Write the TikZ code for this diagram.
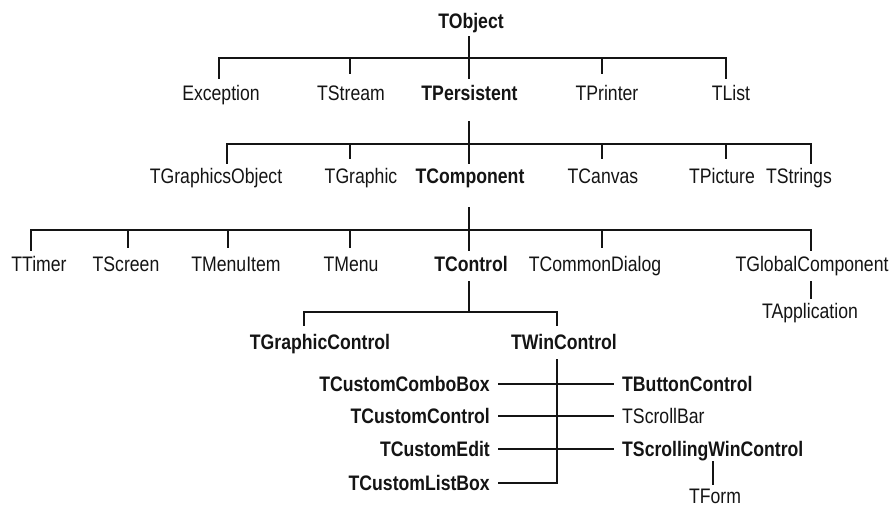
\documentclass[tikz,border=0pt]{standalone}
\usepackage{fontspec}
\setmainfont{Liberation Sans}[FakeStretch=0.84]
\definecolor{ink}{HTML}{141414}
\begin{document}
\begin{tikzpicture}[x=1pt,y=-1pt,
  lbl/.style={anchor=base,inner sep=0pt,text=ink,font=\fontsize{21}{24}\selectfont},
  blbl/.style={lbl,font=\fontsize{21}{24}\selectfont\bfseries},
  conn/.style={line width=1.4pt,draw=ink,line cap=rect}]
\useasboundingbox (0,0) rectangle (891,507);

% ---- labels ----
\node[blbl] (tobject) at (471,28) {TObject};
\node[lbl]  (exc)     at (221,100) {Exception};
\node[lbl]  (tstream) at (351,100) {TStream};
\node[blbl] (tpers)   at (469.5,100) {TPersistent};
\node[lbl]  (tprinter) at (607,100) {TPrinter};
\node[lbl]  (tlist)   at (731,100) {TList};

\node[lbl]  (tgo)      at (216,183) {TGraphicsObject};
\node[lbl]  (tgraphic) at (361,183) {TGraphic};
\node[blbl] (tcomp)    at (470,183) {TComponent};
\node[lbl]  (tcanvas)  at (603,183) {TCanvas};
\node[lbl]  (tpicture) at (722,183) {TPicture};
\node[lbl]  (tstrings) at (799,183) {TStrings};

\node[lbl]  (ttimer)    at (39,271) {TTimer};
\node[lbl]  (tscreen)   at (126,271) {TScreen};
\node[lbl]  (tmenuitem) at (236,271) {TMenuItem};
\node[lbl]  (tmenu)     at (351,271) {TMenu};
\node[blbl] (tcontrol)  at (471,271) {TControl};
\node[lbl]  (tcommon)   at (595,271) {TCommonDialog};
\node[lbl]  (tglobal)   at (812,271) {TGlobalComponent};
\node[lbl]  (tapp)      at (810,318) {TApplication};

\node[blbl] (tgc) at (320,349) {TGraphicControl};
\node[blbl] (twc) at (564,349) {TWinControl};

\node[blbl,anchor=base east] (tccb) at (490,391.5) {TCustomComboBox};
\node[blbl,anchor=base east] (tcc)  at (490,423.5) {TCustomControl};
\node[blbl,anchor=base east] (tce)  at (490,456.5) {TCustomEdit};
\node[blbl,anchor=base east] (tclb) at (490,490.5) {TCustomListBox};

\node[blbl,anchor=base west] (tbc)  at (622,391.5) {TButtonControl};
\node[lbl, anchor=base west] (tsb)  at (622,423.5) {TScrollBar};
\node[blbl,anchor=base west] (tswc) at (622,456.5) {TScrollingWinControl};
\node[lbl]  (tform) at (715,503.5) {TForm};

% ---- connector points ----
\foreach \n/\x/\y in {
 p0/469/37, b1L/219/58, b1R/726/58,
 e11/219/78, e12/350/73, e13/469/78, e14/602/73, e15/726/78,
 p1/469/122, b2L/227/144, b2R/811/144,
 e21/227/163, e22/350/158, e23/469/163, e24/602/158, e25/726/158, e26/811/163,
 p2/469/208, b3L/31/230, b3R/811/230,
 e31/31/250, e32/128/247, e33/228/247, e34/350/247, e35/469/250, e36/602/247, e37/811/250,
 p3/811/282, e38/811/298,
 p4/469/282, b4L/304/312, b4R/557/312, e41/304/325, e42/557/325,
 w0/557/360, w1/557/483,
 r1L/499/384, r1R/613/384, r2L/499/416, r2R/613/416, r3L/499/449, r3R/613/449, r4L/499/483,
 p5/713/462, e51/713/484}
 \coordinate (\n) at (\x,\y);

% ---- connectors ----
\draw[conn] (p0) -- (p0 |- b1L);
\draw[conn] (b1L) -- (b1R);
\foreach \e in {e11,e12,e13,e14,e15} \draw[conn] (\e |- b1L) -- (\e);

\draw[conn] (p1) -- (p1 |- b2L);
\draw[conn] (b2L) -- (b2R);
\foreach \e in {e21,e22,e23,e24,e25,e26} \draw[conn] (\e |- b2L) -- (\e);

\draw[conn] (p2) -- (p2 |- b3L);
\draw[conn] (b3L) -- (b3R);
\foreach \e in {e31,e32,e33,e34,e35,e36,e37} \draw[conn] (\e |- b3L) -- (\e);

\draw[conn] (p3) -- (e38);

\draw[conn] (p4) -- (p4 |- b4L);
\draw[conn] (b4L) -- (b4R);
\foreach \e in {e41,e42} \draw[conn] (\e |- b4L) -- (\e);

\draw[conn] (w0) -- (w1);
\draw[conn] (r1L) -- (r1R);
\draw[conn] (r2L) -- (r2R);
\draw[conn] (r3L) -- (r3R);
\draw[conn] (r4L) -- (w1);

\draw[conn] (p5) -- (e51);
\end{tikzpicture}
\end{document}
